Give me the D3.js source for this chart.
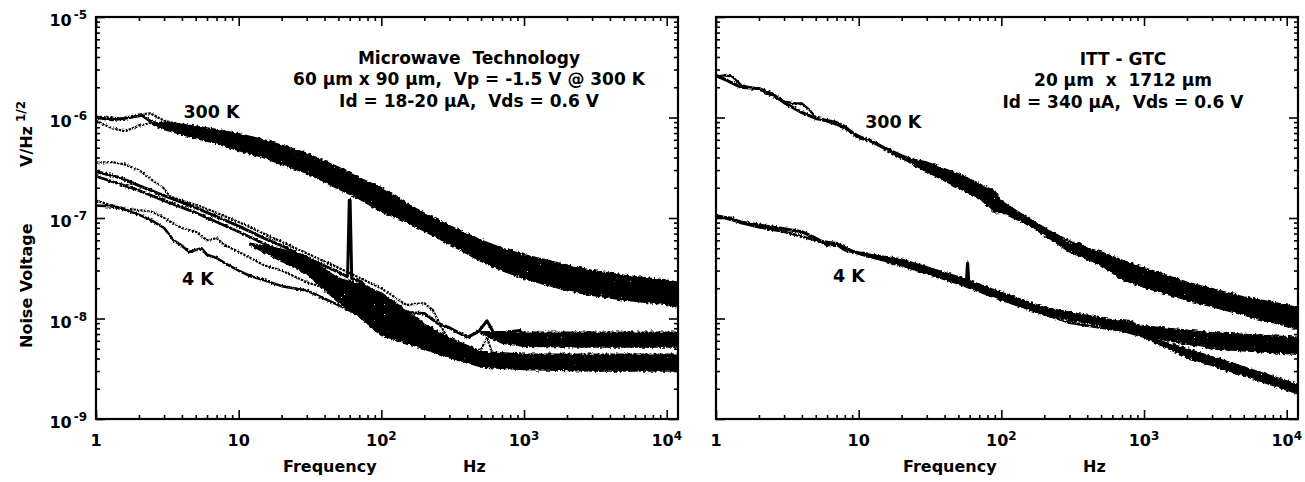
<!DOCTYPE html>
<html><head><meta charset="utf-8">
<script src="https://cdn.jsdelivr.net/npm/d3@7"></script>
<style>
body{margin:0;background:#fff}
text{font-family:"DejaVu Sans",sans-serif;font-weight:bold;fill:#000;white-space:pre}
</style>
</head><body>
<svg id="chart" width="1305" height="482"></svg>
<script>
// ---------------- data (frequency Hz, noise voltage V/Hz^1/2) ----------------
const freqDomain = [1, 12000];
const voltDomain = [1e-9, 1e-5];
const freqTicks = [1, 10, 100, 1000, 10000];
const freqTickBase = ["1", "10", "10", "10", "10"];
const freqTickExp = ["", "", "2", "3", "4"];
const voltTicks = [1e-9, 1e-8, 1e-7, 1e-6, 1e-5];
const voltTickExp = ["-9", "-8", "-7", "-6", "-5"];

const leftTitle = ["Microwave  Technology", "60 \u00b5m x 90 \u00b5m,  Vp = -1.5 V @ 300 K", "Id = 18-20 \u00b5A,  Vds = 0.6 V"];
const rightTitle = ["ITT - GTC", "20 \u00b5m  x  1712 \u00b5m", "Id = 340 \u00b5A,  Vds = 0.6 V"];
const curveLabels = ["300 K", "4 K"];

// Left panel, 300 K traces
const left300a = [[1,1.0e-6],[1.3,9.5e-7],[1.6,9.8e-7],[2.1,1.05e-6],[2.6,8.5e-7],[3,8.4e-7],[4,8.0e-7],[5,7.4e-7],[7,6.6e-7],[10,5.9e-7],[15,5.0e-7],[20,4.4e-7],[30,3.6e-7],[50,2.5e-7],[70,2.0e-7],[95,1.75e-7],[100,1.9e-7],[110,1.6e-7],[150,1.2e-7],[200,9.5e-8],[300,7.1e-8],[500,5.0e-8],[700,4.2e-8],[1000,3.4e-8],[1500,2.9e-8],[2000,2.6e-8],[3000,2.2e-8],[5000,2.0e-8],[7000,1.8e-8],[10000,1.7e-8],[12000,1.66e-8]];
const left300b = [[1,9.3e-7],[1.3,7.8e-7],[1.6,7.3e-7],[2,8.3e-7],[2.5,8.9e-7],[3,8.5e-7],[5,6.9e-7],[10,5.4e-7],[20,4.0e-7],[50,2.3e-7],[100,1.4e-7],[200,8.3e-8],[500,4.6e-8],[1000,3.2e-8],[3000,2.1e-8],[12000,1.5e-8]];
const left300c = [[1,1.02e-6],[1.5,9.8e-7],[2,1.07e-6],[2.4,1.1e-6],[3,9.3e-7],[5,7.8e-7],[10,6.3e-7],[20,4.7e-7],[50,2.8e-7],[100,1.8e-7],[150,1.3e-7],[200,1.05e-7],[500,5.4e-8],[1000,3.65e-8],[3000,2.4e-8],[12000,1.85e-8]];
const left300BandF  = [2.5,3,5,7,10,15,20,30,50,70,100,150,200,300,500,700,1000,2000,3000,5000,10000,12000];
const left300BandHi = [8.7e-7,9.0e-7,8.2e-7,7.6e-7,6.9e-7,6.0e-7,5.3e-7,4.4e-7,3.2e-7,2.5e-7,2.0e-7,1.4e-7,1.12e-7,8.4e-8,6.0e-8,5.0e-8,4.3e-8,3.4e-8,3.0e-8,2.7e-8,2.4e-8,2.3e-8];
const left300BandLo = [8.5e-7,7.6e-7,6.2e-7,5.5e-7,4.7e-7,4.0e-7,3.4e-7,2.8e-7,1.95e-7,1.55e-7,1.15e-7,9.2e-8,7.4e-8,5.5e-8,3.7e-8,3.0e-8,2.5e-8,1.9e-8,1.7e-8,1.53e-8,1.38e-8,1.3e-8];

// Left panel, 4 K traces
const left4a = [[1,2.9e-7],[1.5,2.5e-7],[2,2.1e-7],[3,1.67e-7],[5,1.27e-7],[7,1.03e-7],[10,8.3e-8],[15,6.3e-8],[20,5.3e-8],[30,4.0e-8],[50,2.9e-8],[58,2.6e-8],[59.6,1.5e-7],[60.4,1.5e-7],[62,2.5e-8],[70,2.36e-8],[100,1.6e-8],[125,1.1e-8],[150,1.15e-8],[200,1.12e-8],[250,8.9e-9],[300,8.1e-9],[350,7.2e-9],[400,6.5e-9],[480,7.4e-9],[550,9.5e-9],[600,7.6e-9],[640,6.3e-9],[700,6.8e-9],[800,7.4e-9],[935,7.6e-9],[1000,6.3e-9],[1200,6.6e-9],[1500,6.0e-9],[2000,6.2e-9],[3000,5.9e-9],[5000,6.0e-9],[7000,6.0e-9],[10000,6.0e-9],[12000,6.0e-9]];
const left4b = [[1,3.56e-7],[1.3,3.6e-7],[1.6,3.4e-7],[2,3.0e-7],[2.5,2.36e-7],[3,1.96e-7],[3.3,1.64e-7],[4,1.49e-7],[5,1.36e-7],[7,1.13e-7],[10,9.1e-8],[20,5.8e-8],[50,3.2e-8],[100,2.0e-8],[150,1.36e-8],[167,1.39e-8],[200,1.42e-8],[230,1.21e-8],[260,8.5e-9],[300,6.0e-9],[400,4.8e-9],[500,4.9e-9],[550,6.5e-9],[600,4.4e-9],[700,4.0e-9],[1000,3.65e-9],[3000,3.4e-9],[12000,3.4e-9]];
const left4c = [[1,1.33e-7],[1.3,1.3e-7],[1.5,1.24e-7],[2,1.08e-7],[2.5,9.3e-8],[3,7.95e-8],[3.5,6.0e-8],[4,5.3e-8],[4.5,4.6e-8],[5,4.8e-8],[5.5,5.0e-8],[6,4.3e-8],[7,4.0e-8],[8,3.56e-8],[9,3.25e-8],[10,3.0e-8],[12,2.65e-8],[15,2.42e-8],[20,2.1e-8],[30,1.9e-8],[50,1.36e-8],[100,8.5e-9],[200,5.0e-9],[500,3.4e-9],[1000,3.3e-9],[3000,3.2e-9],[12000,3.25e-9]];
const left4d = [[1,1.49e-7],[1.3,1.33e-7],[1.6,1.24e-7],[2,1.2e-7],[2.5,1.15e-7],[3,1.0e-7],[4,7.95e-8],[5,7.3e-8],[6,6.0e-8],[7,6.3e-8],[8,5.4e-8],[10,4.6e-8],[15,3.4e-8],[20,3.0e-8],[30,2.3e-8],[50,1.8e-8],[100,1.0e-8],[200,6.0e-9],[500,4.0e-9],[1000,3.8e-9],[12000,3.8e-9]];
const left4e = [[1,2.6e-7],[2,1.88e-7],[3,1.49e-7],[5,1.13e-7],[10,7.3e-8],[20,4.6e-8],[50,2.5e-8],[100,1.6e-8],[150,1.08e-8],[200,7.6e-9],[300,5.4e-9],[500,4.0e-9],[1000,3.65e-9],[12000,3.65e-9]];
const left4BandF  = [12,20,30,50,70,100,150,200,300,500,1000,3000,12000];
const left4BandHi = [5.6e-8,4.9e-8,4.1e-8,2.5e-8,2.2e-8,1.8e-8,1.2e-8,8.8e-9,6.4e-9,4.7e-9,4.4e-9,4.4e-9,4.4e-9];
const left4BandLo = [5.4e-8,3.7e-8,2.8e-8,1.45e-8,1.05e-8,6.8e-9,5.7e-9,5.0e-9,4.1e-9,3.3e-9,3.1e-9,3.0e-9,3.0e-9];
const left4UpperBandF  = [500,700,1000,3000,12000];
const left4UpperBandHi = [7.4e-9,7.4e-9,7.3e-9,7.3e-9,7.3e-9];
const left4UpperBandLo = [7.2e-9,5.7e-9,5.3e-9,5.2e-9,5.2e-9];

// Right panel, 300 K traces
const right300a = [[1,2.62e-6],[1.2,2.33e-6],[1.5,2.0e-6],[2,1.94e-6],[2.5,1.7e-6],[3,1.41e-6],[4,1.12e-6],[5,9.8e-7],[6,9.3e-7],[7,8.9e-7],[8,8.1e-7],[10,6.3e-7],[12,5.9e-7],[15,5.0e-7],[20,4.0e-7],[30,3.2e-7],[50,2.36e-7],[70,1.88e-7],[100,1.27e-7],[150,9.55e-8],[200,7.6e-8],[250,6.0e-8],[300,5.0e-8],[350,5.6e-8],[400,4.8e-8],[500,4.0e-8],[600,3.56e-8],[700,3.0e-8],[1000,2.5e-8],[1500,2.1e-8],[2000,1.84e-8],[3000,1.6e-8],[5000,1.3e-8],[7000,1.13e-8],[10000,1.0e-8],[12000,9.55e-9]];
const right300b = [[1,2.55e-6],[1.15,2.62e-6],[1.3,2.55e-6],[1.5,2.1e-6],[2,1.9e-6],[3,1.45e-6],[3.5,1.38e-6],[4,1.38e-6],[4.5,1.2e-6],[5,1.0e-6],[7,8.5e-7],[10,6.6e-7],[20,4.2e-7],[50,2.45e-7],[100,1.3e-7],[200,7.8e-8],[500,4.1e-8],[1000,2.6e-8],[3000,1.65e-8],[12000,9.8e-9]];
const right300BandF  = [20,30,50,70,90,100,150,200,300,500,700,1000,2000,5000,10000,12000];
const right300BandHi = [4.05e-7,3.6e-7,2.75e-7,2.2e-7,1.85e-7,1.47e-7,1.02e-7,8.0e-8,5.6e-8,4.6e-8,3.8e-8,3.2e-8,2.3e-8,1.64e-8,1.36e-8,1.27e-8];
const right300BandLo = [3.95e-7,2.9e-7,2.0e-7,1.58e-7,1.13e-7,1.14e-7,8.7e-8,6.8e-8,4.6e-8,3.4e-8,2.45e-8,2.05e-8,1.53e-8,1.08e-8,8.4e-9,7.8e-9];

// Right panel, 4 K traces
const right4a = [[1,1.06e-7],[1.5,9.1e-8],[2,8.5e-8],[3,7.8e-8],[4,7.3e-8],[5,6.3e-8],[6,5.4e-8],[7,5.5e-8],[8,4.8e-8],[10,4.5e-8],[12,4.2e-8],[15,4.0e-8],[20,3.65e-8],[30,3.2e-8],[40,2.7e-8],[50,2.4e-8],[57,2.35e-8],[58,3.56e-8],[59,2.3e-8],[70,2.15e-8],[100,1.67e-8],[150,1.36e-8],[200,1.19e-8],[250,1.1e-8],[300,1.0e-8],[400,9.55e-9],[500,9.3e-9],[600,8.3e-9],[700,9.55e-9],[800,9.3e-9],[1000,7.6e-9],[1500,6.8e-9],[2000,6.2e-9],[3000,5.9e-9],[5000,5.6e-9],[10000,5.4e-9],[12000,5.3e-9]];
const right4b = [[1,1.04e-7],[1.3,1.0e-7],[1.5,8.9e-8],[2,8.1e-8],[3,7.3e-8],[5,6.0e-8],[7,5.6e-8],[10,4.4e-8],[20,3.4e-8],[50,2.3e-8],[100,1.6e-8],[200,1.1e-8],[300,9.1e-9],[500,8.1e-9],[700,7.6e-9],[1000,6.6e-9],[1500,5.4e-9],[2000,4.6e-9],[3000,3.8e-9],[5000,3.0e-9],[7000,2.5e-9],[10000,2.15e-9],[12000,1.96e-9]];
const right4MidBandF  = [10,20,50,100,200,500,1000,3000,12000];
const right4MidBandHi = [4.5e-8,3.9e-8,2.6e-8,1.82e-8,1.29e-8,1.01e-8,8.4e-9,7.2e-9,6.5e-9];
const right4MidBandLo = [4.4e-8,3.35e-8,2.2e-8,1.52e-8,1.09e-8,8.4e-9,6.7e-9,5.0e-9,4.4e-9];
const right4LowBandF  = [1000,2000,5000,12000];
const right4LowBandHi = [6.7e-9,5.0e-9,3.3e-9,2.2e-9];
const right4LowBandLo = [6.5e-9,4.1e-9,2.7e-9,1.78e-9];

// ---------------- drawing ----------------
const svg = d3.select("#chart");
const defs = svg.append("defs");

// roughening filter: vertical-only displacement + sparse speckle holes
function makeFilter(id, freq, scale, seed, holes) {
  const f = defs.append("filter").attr("id", id).attr("x", "-5%").attr("y", "-30%").attr("width", "110%").attr("height", "160%");
  f.append("feTurbulence").attr("type", "fractalNoise").attr("baseFrequency", freq).attr("numOctaves", 2).attr("seed", seed).attr("result", "n0");
  f.append("feColorMatrix").attr("in", "n0").attr("type", "matrix")
    .attr("values", "0 0 0 0 0.5  0 1 0 0 0  0 0 1 0 0  0 0 0 0 1").attr("result", "n");
  f.append("feDisplacementMap").attr("in", "SourceGraphic").attr("in2", "n").attr("scale", scale)
    .attr("xChannelSelector", "R").attr("yChannelSelector", "G").attr("result", "d");
  if (holes) {
    f.append("feTurbulence").attr("type", "fractalNoise").attr("baseFrequency", 0.7).attr("numOctaves", 1).attr("seed", seed + 11).attr("result", "n2");
    f.append("feColorMatrix").attr("in", "n2").attr("type", "matrix")
      .attr("values", "0 0 0 0 0  0 0 0 0 0  0 0 0 0 0  18 0 0 0 -13.8").attr("result", "h");
    f.append("feComposite").attr("in", "d").attr("in2", "h").attr("operator", "out");
  }
}
makeFilter("rough", 0.35, 5, 4, true);
makeFilter("rough2", 0.5, 3.5, 9, false);

const TOP = 17, BOTTOM = 419;

function band(F, hi, lo) { return F.map((f, i) => ({f, hi: hi[i], lo: lo[i]})); }

function drawPanel(x0, x1, cfg, id) {
  const x = d3.scaleLog().domain(freqDomain).range([x0, x1]);
  const y = d3.scaleLog().domain(voltDomain).range([BOTTOM, TOP]);
  const g = svg.append("g");

  defs.append("clipPath").attr("id", "clip" + id).append("rect")
    .attr("x", x0).attr("y", TOP).attr("width", x1 - x0).attr("height", BOTTOM - TOP);
  const plot = g.append("g").attr("clip-path", `url(#clip${id})`);

  const area = d3.area().x(d => x(d.f)).y0(d => y(d.lo)).y1(d => y(d.hi));
  const line = d3.line().x(d => x(d[0])).y(d => y(d[1]));

  cfg.bands.forEach(b => {
    plot.append("path").datum(band(b[0], b[1], b[2])).attr("d", area)
      .attr("fill", "#000").attr("stroke", "#000").attr("stroke-width", 1.5)
      .attr("stroke-linejoin", "round").attr("filter", "url(#rough)");
  });
  cfg.lines.forEach(l => {
    plot.append("path").datum(l.data).attr("d", line)
      .attr("fill", "none").attr("stroke", "#000")
      .attr("stroke-width", l.w).attr("stroke-linejoin", "round")
      .attr("stroke-dasharray", l.dash || null)
      .attr("filter", "url(#rough2)");
  });

  // axes (ticks inward, all four sides)
  const minor = x.ticks().filter(t => !freqTicks.includes(t));
  const minorY = y.ticks().filter(t => !voltTicks.some(v => Math.abs(v - t) / v < 1e-6));
  const mk = (axis, vals, size, tr) => {
    const a = g.append("g").attr("transform", tr)
      .call(axis.tickValues(vals).tickSize(-size).tickFormat(""));
    a.select(".domain").remove();
    a.selectAll("line").attr("stroke", "#000").attr("stroke-width", 1.6);
  };
  mk(d3.axisBottom(x), freqTicks, 9, `translate(0,${BOTTOM})`);
  mk(d3.axisBottom(x), minor, 4, `translate(0,${BOTTOM})`);
  mk(d3.axisTop(x), freqTicks, 9, `translate(0,${TOP})`);
  mk(d3.axisTop(x), minor, 4, `translate(0,${TOP})`);
  mk(d3.axisLeft(y), voltTicks, 9, `translate(${x0},0)`);
  mk(d3.axisLeft(y), minorY, 4, `translate(${x0},0)`);
  mk(d3.axisRight(y), voltTicks, 9, `translate(${x1},0)`);
  mk(d3.axisRight(y), minorY, 4, `translate(${x1},0)`);

  g.append("rect").attr("x", x0).attr("y", TOP).attr("width", x1 - x0).attr("height", BOTTOM - TOP)
    .attr("fill", "none").attr("stroke", "#000").attr("stroke-width", 2.2);

  // x tick labels
  freqTicks.forEach((t, i) => {
    const tx = g.append("text").attr("x", x(t)).attr("y", 446).attr("text-anchor", "middle").attr("font-size", 16);
    tx.append("tspan").text(freqTickBase[i]);
    if (freqTickExp[i]) tx.append("tspan").attr("font-size", 12).attr("dy", -6).text(freqTickExp[i]);
  });
  // y tick labels
  if (cfg.yLabels) {
    voltTicks.forEach((t, i) => {
      const tx = g.append("text").attr("x", x0 - 9).attr("y", y(t) + 9).attr("text-anchor", "end").attr("font-size", 16);
      tx.append("tspan").text("10");
      tx.append("tspan").attr("font-size", 12).attr("dy", -7).attr("dx", 2).text(voltTickExp[i]);
    });
  }
  // axis title
  g.append("text").attr("x", x0 + 187).attr("y", 472).attr("font-size", 16).text("Frequency");
  g.append("text").attr("x", x0 + 367).attr("y", 472).attr("font-size", 16).text("Hz");

  // device annotation
  cfg.title.forEach((s, i) => {
    g.append("text").attr("x", cfg.titleX).attr("y", cfg.titleY[i]).attr("text-anchor", "middle")
      .attr("font-size", 17).text(s);
  });
  cfg.labels.forEach(l => {
    g.append("text").attr("x", x(l.f)).attr("y", y(l.v)).attr("font-size", 17.5).text(l.text);
  });
}

drawPanel(96, 678, {
  yLabels: true,
  title: leftTitle, titleX: 469, titleY: [64, 85, 107],
  labels: [{text: curveLabels[0], f: 4.1, v: 9.8e-7}, {text: curveLabels[1], f: 4.0, v: 2.15e-8}],
  bands: [[left300BandF, left300BandHi, left300BandLo], [left4BandF, left4BandHi, left4BandLo], [left4UpperBandF, left4UpperBandHi, left4UpperBandLo]],
  lines: [
    {data: left300a, w: 3}, {data: left300b, w: 2.2, dash: "2.5 1"}, {data: left300c, w: 2.2, dash: "2.5 1"},
    {data: left4a, w: 3}, {data: left4e, w: 2.8}, {data: left4b, w: 2.2, dash: "2.5 1"},
    {data: left4c, w: 2.6}, {data: left4d, w: 2.2, dash: "2.5 1"}
  ]
}, "L");

drawPanel(716, 1298, {
  yLabels: false,
  title: rightTitle, titleX: 1123, titleY: [65, 86, 108],
  labels: [{text: curveLabels[0], f: 11.1, v: 7.95e-7}, {text: curveLabels[1], f: 6.6, v: 2.3e-8}],
  bands: [[right300BandF, right300BandHi, right300BandLo], [right4MidBandF, right4MidBandHi, right4MidBandLo], [right4LowBandF, right4LowBandHi, right4LowBandLo]],
  lines: [
    {data: right300a, w: 3.2}, {data: right300b, w: 2.2},
    {data: right4a, w: 3.2}, {data: right4b, w: 2.6}
  ]
}, "R");

// y axis title
svg.append("text").attr("transform", "translate(32,348) rotate(-90)").attr("font-size", 16).text("Noise Voltage");
const yt = svg.append("text").attr("transform", "translate(32,167) rotate(-90)").attr("font-size", 16);
yt.append("tspan").text("V/Hz");
yt.append("tspan").attr("font-size", 12).attr("dx", 4).attr("dy", -7).text("1/2");
</script>
</body></html>
